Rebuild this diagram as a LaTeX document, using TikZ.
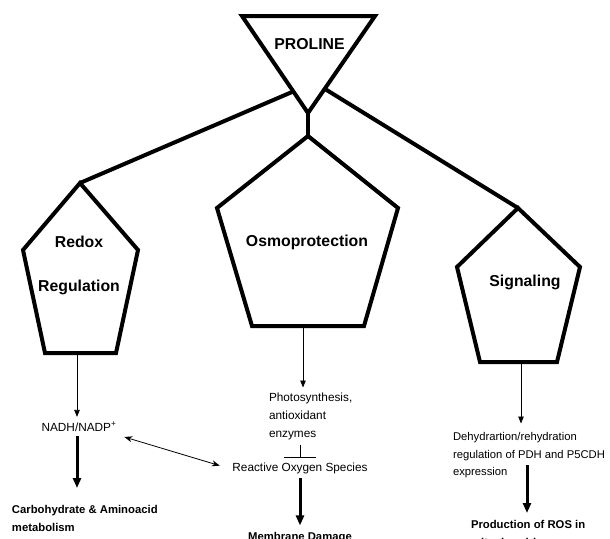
\documentclass[tikz,border=0pt]{standalone}
\usepackage{fontspec}
\setmainfont{Liberation Sans}
\usetikzlibrary{%
  arrows.meta,% Triangle, Bar, Stealth
  positioning% wg. " of "
}

\begin{document}
\begin{tikzpicture}[x=1pt,y=-1pt,line width=4pt,
    head/.style={font=\fontsize{15.8}{19}\selectfont\bfseries,inner sep=0pt},
    txt/.style={font=\fontsize{11.8}{18}\selectfont,inner sep=3pt,align=left},
    btxt/.style={font=\fontsize{11.3}{18}\selectfont\bfseries,inner sep=3pt,align=left},
    thinarrow/.style={line width=0.8pt,-{Triangle[length=7pt,width=5.5pt]}},
    thickarrow/.style={line width=3pt,-{Triangle[length=10pt,width=8pt]}},
    inhibit/.style={line width=0.8pt,-{Bar[width=32pt,line width=0.8pt]}},
    twoway/.style={line width=0.8pt,{Stealth[length=8pt,width=6pt]}-{Stealth[length=8pt,width=6pt]}}]
  \useasboundingbox (0,0) rectangle (610,538);

  %proline
  \coordinate (p_l) at (242,16);
  \coordinate (p_r) at (375,16);
  \coordinate (p_a) at (308,113);
  \coordinate (p_bl) at (292,92);
  \coordinate (p_br) at (325,89);
  \draw (p_l) -- (p_r) -- (p_a) -- cycle;
  \node[head,anchor=base] (proline) at (309.5,49) {PROLINE};

  %redox
  \coordinate (r_1) at (80,183);
  \coordinate (r_2) at (138,250);
  \coordinate (r_3) at (116,353);
  \coordinate (r_4) at (45,353);
  \coordinate (r_5) at (23,250);
  \coordinate (r_b) at (77,353);
  \draw (r_1) -- (r_2) -- (r_3) -- (r_4) -- (r_5) -- cycle;
  \node[head,align=center,font=\fontsize{15.8}{44}\selectfont\bfseries,anchor=north] (redox) at (79,233.6) {Redox\\Regulation};

  %osmo
  \coordinate (m_1) at (308,136);
  \coordinate (m_2) at (398,208);
  \coordinate (m_3) at (364,326);
  \coordinate (m_4) at (252,326);
  \coordinate (m_5) at (217,208);
  \coordinate (m_b) at (303,326);
  \draw (m_1) -- (m_2) -- (m_3) -- (m_4) -- (m_5) -- cycle;
  \node[head,anchor=base] (osmo) at (307,246) {Osmoprotection};

  %signaling
  \coordinate (s_1) at (518,208);
  \coordinate (s_2) at (580,267);
  \coordinate (s_3) at (557,362);
  \coordinate (s_4) at (480,362);
  \coordinate (s_5) at (457,267);
  \coordinate (s_b) at (521,362);
  \draw (s_1) -- (s_2) -- (s_3) -- (s_4) -- (s_5) -- cycle;
  \node[head,anchor=base] (signal) at (525,286) {Signaling};

  %branches
  \draw (p_bl) -- (r_1);
  \draw (p_br) -- (s_1);
  \draw (p_a) -- (m_1);

  %texts
  \node[txt,anchor=base] (nadh) at (79,431) {NADH/NADP\textsuperscript{+}};
  \node[btxt,anchor=north west] (carb) at (7,500) {Carbohydrate \& Aminoacid\\metabolism};
  \node[txt,anchor=north west] (photo) at (264,387.5) {Photosynthesis,\\antioxidant\\enzymes};
  \node[txt,anchor=base] (ros) at (300,471) {Reactive Oxygen Species};
  \node[btxt] (memb) [below=49pt of ros] {Membrane Damage};
  \node[txt,font=\fontsize{11.25}{17.5}\selectfont,anchor=north west] (dehyd) at (448,427.5) {Dehydrartion/rehydration\\regulation of PDH and P5CDH\\expression};
  \node[btxt,anchor=north west] (prod) at (466,515) {Production of ROS in\\mitochondria};
  \coordinate (d_r) at (527,465);

  %arrows
  \draw[thinarrow] (r_b) -- (r_b |- nadh.north);
  \draw[thickarrow,shorten >=12pt] (nadh.south -| r_b) -- (r_b |- carb.north);
  \draw[twoway,shorten <=3pt,shorten >=8pt] (nadh.south east) -- (ros.west);
  \draw[thinarrow] (m_b) -- (m_b |- photo.north);
  \draw[inhibit] (photo.south -| ros.north) -- (ros.north);
  \draw[thickarrow,shorten >=2pt] (ros.south) -- (ros.south |- memb.north);
  \draw[thinarrow,shorten >=4pt] (s_b) -- (s_b |- dehyd.north);
  \draw[thickarrow,shorten >=2pt] (d_r) -- (d_r |- prod.north);

\end{tikzpicture}
\end{document}
